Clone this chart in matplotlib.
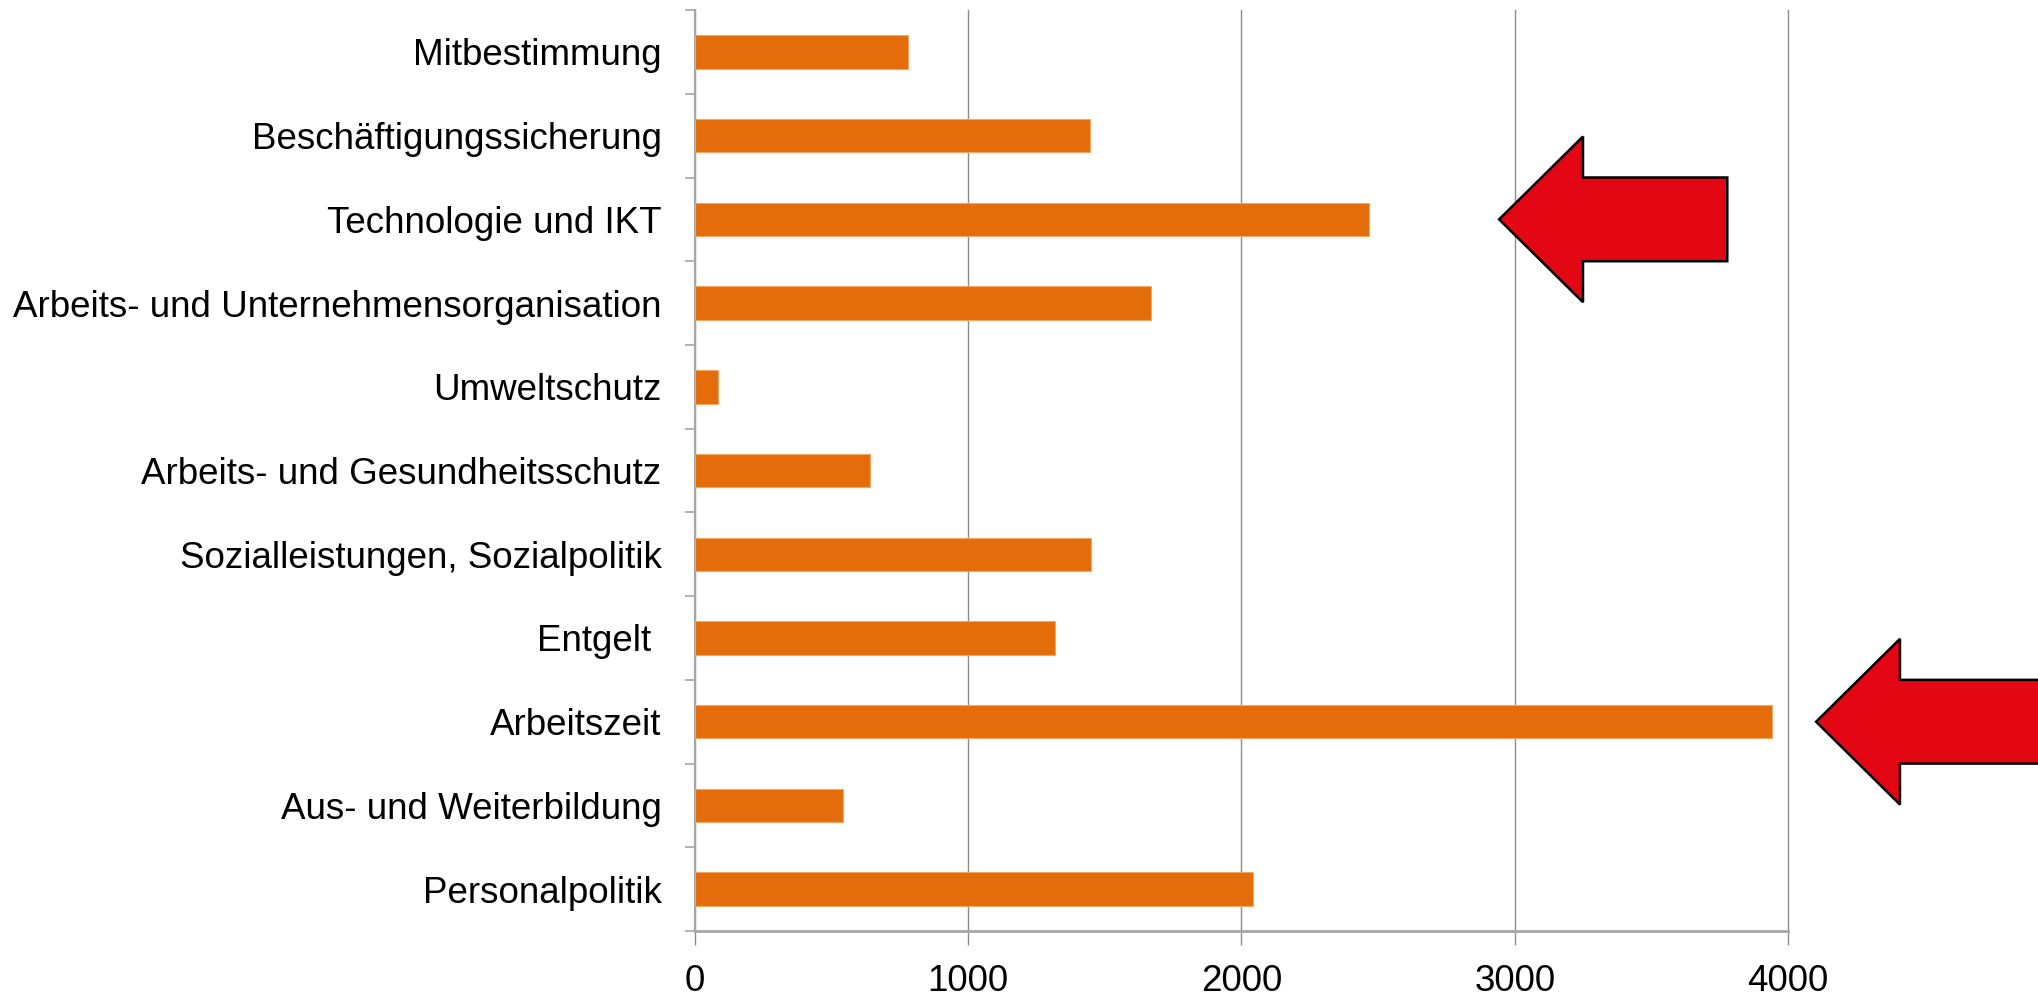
import matplotlib
matplotlib.use("Agg")
import matplotlib.pyplot as plt
from matplotlib.patches import Polygon
from matplotlib.ticker import FixedLocator
import numpy as np

# categories, top to bottom as in the chart
themen = ["Mitbestimmung", "Beschäftigungssicherung", "Technologie und IKT",
          "Arbeits- und Unternehmensorganisation", "Umweltschutz",
          "Arbeits- und Gesundheitsschutz", "Sozialleistungen, Sozialpolitik",
          "Entgelt ", "Arbeitszeit", "Aus- und Weiterbildung", "Personalpolitik"]
werte = [780, 1446, 2468, 1669, 86, 642, 1451, 1317, 3943, 542, 2042]
x_ticks = [0, 1000, 2000, 3000, 4000]

# which bars get a red arrow, and where the arrow tip sits (x in data units)
hervorgehoben = {"Technologie und IKT": 2943, "Arbeitszeit": 4103}

plt.rcParams['font.family'] = ['Liberation Sans', 'DejaVu Sans']

fig = plt.figure(figsize=(20.38, 10.05), dpi=100)
ax = fig.add_axes([0.341, 0.0736, 0.5363, 0.9164])

ypos = np.arange(len(themen))
ax.barh(ypos, werte, height=0.4, color="#E46C0A", edgecolor="#F2A765",
        linewidth=0.8, zorder=3)

ax.set_xlim(0, 4000)
ax.set_ylim(len(themen) - 0.5, -0.5)

ax.set_xticks(x_ticks)
ax.set_xticklabels([str(t) for t in x_ticks], fontsize=26.5)
ax.set_yticks(ypos)
ax.set_yticklabels(themen, fontsize=26.5)
ax.yaxis.set_minor_locator(FixedLocator(np.arange(-0.5, len(themen), 1.0)))

ax.tick_params(axis="y", which="major", length=0, pad=24)
ax.tick_params(axis="y", which="minor", length=7.5, width=1.2, color="#A6A6A6")
ax.tick_params(axis="x", which="major", length=10, width=1, color="#8C8C8C",
               pad=14)

ax.grid(axis="x", color="#8C8C8C", linewidth=1, zorder=0)
for gl in ax.get_xgridlines():
    gl.set_clip_on(False)
for s in ["top", "right"]:
    ax.spines[s].set_visible(False)
ax.spines["left"].set_color("#A6A6A6")
ax.spines["left"].set_linewidth(1.5)
ax.spines["bottom"].set_color("#A6A6A6")
ax.spines["bottom"].set_linewidth(2)

# red block arrows pointing at the two highlighted bars
def block_arrow(ax, tip_x, y, shaft_end):
    head_len = 307
    head_h = 0.99
    shaft_h = 0.5
    pts = [(tip_x, y),
           (tip_x + head_len, y - head_h),
           (tip_x + head_len, y - shaft_h),
           (shaft_end, y - shaft_h),
           (shaft_end, y + shaft_h),
           (tip_x + head_len, y + shaft_h),
           (tip_x + head_len, y + head_h)]
    ax.add_patch(Polygon(pts, closed=True, facecolor="#E30613",
                         edgecolor="black", linewidth=1.8, clip_on=False,
                         zorder=5))

block_arrow(ax, hervorgehoben["Technologie und IKT"],
            themen.index("Technologie und IKT"), 3778)
block_arrow(ax, hervorgehoben["Arbeitszeit"],
            themen.index("Arbeitszeit"), 5200)

fig.savefig("out.png", dpi=100)
